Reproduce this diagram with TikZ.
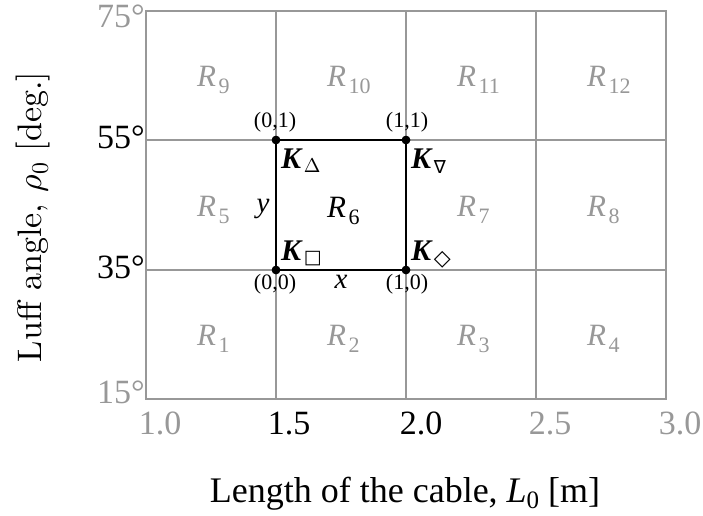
\documentclass[tikz,border=0pt]{standalone}
\usepackage{fontspec}
\DeclareFontShape{OML}{cmm}{m}{it}{<->cmmi10}{}
\DeclareFontShape{OT1}{cmr}{m}{n}{<->cmr10}{}
\newfontfamily\tms{Liberation Serif}
\newfontfamily\dvs{DejaVu Sans}
\newfontfamily\lmten{lmroman10-regular.otf}
\definecolor{gr}{RGB}{152,152,152}
\newcommand\Rlab[1]{\textit{R}\kern2.5pt\raisebox{-7pt}{\fontsize{22}{22}\selectfont #1}}
\newcommand\Klab[2]{\textbf{\textit{K}}\kern1pt\raisebox{#2}{#1}}
\begin{document}
\begin{tikzpicture}[x=1pt,y=-1pt,
  gridline/.style={draw=gr,line width=1.6pt},
  sq/.style={draw=black,line width=2.2pt},
  dot/.style={circle,fill=black,inner sep=0pt,minimum size=8.5pt},
  rlab/.style={anchor=base west,inner sep=0pt,font=\tms\fontsize{31}{31}\selectfont,text=gr},
  tick/.style={inner sep=0pt,font=\tms\fontsize{34}{34}\selectfont},
  plab/.style={inner sep=0pt,font=\tms\fontsize{22}{22}\selectfont},
  klab/.style={anchor=base west,inner sep=0pt,font=\tms\fontsize{30}{30}\selectfont},
  vlab/.style={anchor=base,inner sep=0pt,font=\tms\itshape\fontsize{29}{29}\selectfont}]
\useasboundingbox (0,0) rectangle (703,515);
% grid
\draw[gridline] (146,11) rectangle (666,399);
\foreach \xx in {276,406,536} \draw[gridline] (\xx,11) -- (\xx,399);
\foreach \yy in {140,270} \draw[gridline] (146,\yy) -- (666,\yy);
% region labels
\node[rlab] (r9)  at (197,86) {\Rlab{9}};
\node[rlab] (r10) at (327,86) {\Rlab{10}};
\node[rlab] (r11) at (457,86) {\Rlab{11}};
\node[rlab] (r12) at (587,86) {\Rlab{12}};
\node[rlab] (r5)  at (197,216) {\Rlab{5}};
\node[rlab,text=black] (r6) at (327,217) {\Rlab{6}};
\node[rlab] (r7)  at (457,216) {\Rlab{7}};
\node[rlab] (r8)  at (587,216) {\Rlab{8}};
\node[rlab] (r1)  at (197,345) {\Rlab{1}};
\node[rlab] (r2)  at (327,345) {\Rlab{2}};
\node[rlab] (r3)  at (457,345) {\Rlab{3}};
\node[rlab] (r4)  at (587,345) {\Rlab{4}};
% corner points
\node[dot] (p00) at (276,270) {};
\node[dot] (p10) at (406,270) {};
\node[dot] (p11) at (406,140) {};
\node[dot] (p01) at (276,140) {};
\draw[sq] (p00.center) -- (p10.center) -- (p11.center) -- (p01.center) -- cycle;
\node[dot] at (p00) {};
\node[dot] at (p10) {};
\node[dot] at (p11) {};
\node[dot] at (p01) {};
\node[plab] (l01) at (275,122.5) {(0,1)};
\node[plab] (l11) at (407,122.5) {(1,1)};
\node[plab] (l00) at (275,284) {(0,0)};
\node[plab] (l10) at (407,284) {(1,0)};
% K labels
\node[klab] (kd) at (281,168) {\Klab{\fontsize{20}{20}\selectfont\(\Delta\)}{-4pt}};
\node[klab] (kn) at (411,168) {\Klab{\dvs\fontsize{18}{18}\selectfont ∇}{-5pt}};
\node[klab] (ks) at (281,260) {\Klab{\dvs\fontsize{19}{19}\selectfont □}{-3pt}};
\node[klab] (kr) at (411,260) {\Klab{\dvs\fontsize{22}{22}\selectfont ◇}{-5pt}};
\node[vlab] (vy) at (263,212) {y};
\node[vlab] (vx) at (341,288) {x};
% ticks
\node[tick,anchor=base,text=gr] (t10) at (160,434) {1.0};
\node[tick,anchor=base] (t15) at (289,434) {1.5};
\node[tick,anchor=base] (t20) at (421,434) {2.0};
\node[tick,anchor=base,text=gr] (t25) at (550,434) {2.5};
\node[tick,anchor=base,text=gr] (t30) at (680,434) {3.0};
\node[tick,anchor=base east,text=gr] (t75) at (145,27) {75°};
\node[tick,anchor=base east] (t55) at (145,148) {55°};
\node[tick,anchor=base east] (t35) at (145,278) {35°};
\node[tick,anchor=base east,text=gr] (t15d) at (145,403) {15°};
% axis titles
\node[anchor=base,inner sep=0pt,font=\tms\fontsize{36}{36}\selectfont] (xt) at (405,502) {Length of the cable, \textit{L}\raisebox{-6pt}{\fontsize{25}{25}\selectfont 0} [m]};
\node[rotate=90,anchor=base,inner sep=0pt,font=\lmten\fontsize{34}{34}\selectfont] (yt) at (41,217) {Luff angle, \(\rho_0\) [deg.]};
\end{tikzpicture}
\end{document}
